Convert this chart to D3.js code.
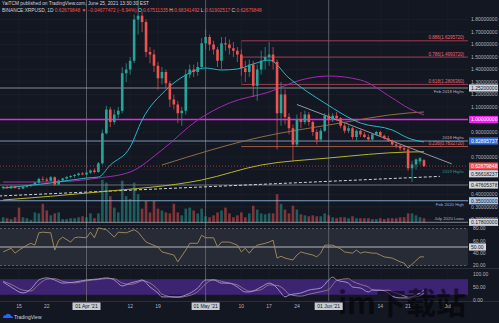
<!DOCTYPE html>
<html><head><meta charset="utf-8">
<script src="https://cdn.jsdelivr.net/npm/d3@7"></script>
<style>
html,body{margin:0;padding:0;background:#131722;overflow:hidden}
svg{display:block;font-family:"Liberation Sans",Arial,sans-serif}
</style></head><body>
<svg id="c" width="499" height="323"></svg>
<script>
// ---------------- DATA ----------------
const startDate = "2021-03-11";
const opens  = [.452,.462,.450,.466,.452,.448,.462,.470,.478,.495,.525,.520,.510,.538,.480,.512,.528,.540,.548,.556,.568,.560,.575,.592,.580,
 .650,.890,1.080,.980,1.040,1.070,1.370,1.400,1.470,1.800,1.830,1.780,1.540,1.520,1.430,1.330,1.380,1.290,1.160,
 1.120,1.050,1.070,1.360,1.400,1.380,1.420,1.610,1.660,1.600,1.560,1.470,1.610,1.600,1.570,1.550,1.520,1.410,1.380,
 1.440,1.270,1.400,1.470,1.500,1.520,1.460,1.050,1.200,1.020,.930,.800,1.000,.980,1.040,.980,.900,.840,.910,1.030,1.000,1.030,
 1.010,.950,.910,.930,.860,.910,.880,.860,.840,.880,.900,.870,.850,.830,.800,.790,.770,.760,.610,.640,.665,.675];
const highs  = [.468,.470,.472,.470,.462,.470,.478,.485,.500,.535,.545,.535,.548,.545,.520,.535,.548,.555,.565,.575,.580,.590,.600,.610,.660,
 .920,1.110,1.100,1.080,1.100,1.420,1.450,1.500,1.840,1.960,1.860,1.800,1.580,1.560,1.460,1.420,1.400,1.310,1.200,
 1.150,1.100,1.400,1.440,1.440,1.460,1.650,1.720,1.680,1.630,1.580,1.660,1.660,1.640,1.620,1.580,1.560,1.470,1.480,
 1.470,1.440,1.550,1.580,1.620,1.580,1.480,1.300,1.240,1.050,.960,1.040,1.060,1.070,1.060,.990,.920,.930,1.050,1.050,1.050,1.060,
 1.020,.970,.950,.940,.920,.920,.900,.880,.890,.910,.910,.880,.870,.840,.820,.800,.780,.780,.670,.690,.700,.683];
const lows   = [.440,.445,.443,.447,.440,.442,.455,.460,.468,.485,.505,.500,.505,.470,.475,.505,.520,.530,.535,.545,.555,.555,.565,.570,.575,
 .640,.880,.940,.960,1.010,1.050,1.300,1.360,1.450,1.680,1.700,1.500,1.450,1.380,1.240,1.280,1.250,1.100,1.080,
 .970,.950,1.040,1.330,1.340,1.350,1.400,1.560,1.550,1.520,1.420,1.400,1.550,1.520,1.500,1.460,1.350,1.300,1.340,
 1.180,1.150,1.360,1.400,1.430,1.400,.760,.950,.960,.880,.660,.780,.930,.960,.950,.870,.800,.820,.900,.960,.980,.990,
 .930,.890,.890,.840,.830,.860,.850,.830,.830,.870,.860,.840,.820,.790,.770,.750,.740,.590,.500,.600,.640,.619];
const closes = [.462,.450,.466,.452,.448,.462,.470,.478,.495,.525,.520,.510,.538,.480,.512,.528,.540,.548,.556,.568,.560,.575,.592,.580,.650,
 .890,1.080,.980,1.040,1.070,1.370,1.400,1.470,1.800,1.830,1.780,1.540,1.520,1.430,1.330,1.380,1.290,1.160,1.120,
 1.050,1.070,1.360,1.400,1.380,1.420,1.610,1.660,1.600,1.560,1.470,1.610,1.600,1.570,1.550,1.520,1.410,1.380,1.440,
 1.270,1.400,1.470,1.500,1.520,1.460,1.050,1.200,1.020,.930,.800,1.000,.980,1.040,.980,.900,.840,.910,1.030,1.000,1.030,1.010,
 .950,.910,.930,.860,.910,.880,.860,.840,.880,.900,.870,.850,.830,.800,.790,.770,.760,.610,.640,.680,.690,.627];
const volumes = [120,100,80,120,320,120,100,60,220,200,400,260,160,200,220,80,80,100,100,120,140,120,200,100,200,
 900,840,560,320,220,880,560,500,840,600,300,460,220,460,300,260,220,200,400,
 220,160,300,320,260,200,300,140,120,160,220,260,320,200,120,160,220,120,200,
 360,280,200,180,200,200,600,400,280,200,360,280,180,160,140,160,140,140,200,160,120,100,120,120,100,140,100,100,100,100,80,80,100,80,100,100,100,120,120,200,200,160,120,100];

// price axis ticks
const priceTicks = [1.8,1.7,1.6,1.5,1.4,1.3,1.2,1.1,0.9,0.7,0.4,0.3,0.2];
// moving averages: day index from start, price
const ma20Idx = [0,12,21,24,27,32,35,41,46,51,55,59,63,67,72,81,90,98,102,106];
const ma20Val = [.452,.492,.532,.54,.636,.78,.996,1.236,1.356,1.412,1.396,1.404,1.444,1.476,1.332,1.132,.972,.916,.852,.82];
const ma50Idx = [0,12,24,32,40,49,57,67,75,82,90,98,102,106];
const ma50Val = [.50,.50,.532,.58,.756,.996,1.132,1.22,1.316,1.348,1.316,1.172,1.092,1.036];
const ma100Idx = [40,65,82,102,106];
const ma100Val = [.636,.86,.956,1.052,1.06];
const ma200Idx = [0,24,50,65,82,102,106];
const ma200Val = [.356,.42,.516,.636,.692,.74,.742];
// RSI (read)
const rsiIdx = [0,2,3,4,6,7,8,9,10,12,13,14,15,17,18,19,21,22,23,24,26,28,29,31,33,34,35,36,39,40,43,44,46,47,49,50,51,53,54,55,57,59,60,61,62,63,64,66,67,68,69,70,71,73,74,75,76,78,79,80,81,83,84,85,86,88,89,90,91,93,94,95,96,98,100,101,102,103,105,106];
const rsiVal = [42,48,40,45,53,56,53,73,74,73,45,61,66,58,65,66,65,74,65,81,78,66,74,73,78,74,66,58,50,42,37,26,45,56,56,69,65,65,50,58,58,53,42,48,40,48,53,56,58,61,32,35,32,29,37,42,40,37,34,40,53,53,50,47,42,40,45,40,42,40,40,37,34,32,26,24,16,22,34,34];
// Stoch RSI (read)
const kIdx = [0,2,5,7,9,11,13,15,18,21,24,26,28,30,32,34,35,37,39,40,44,46,49,51,53,55,57,59,61,62,65,67,69,70,71,72,75,77,80,82,83,84,87,88,90,92,93,95,97,98,100,102,104,106];
const kVal = [69,50,27,42,77,85,77,65,69,77,81,85,77,54,65,73,77,50,27,12,12,19,46,77,77,65,65,50,31,31,50,65,46,27,12,19,27,38,46,77,88,77,65,50,46,31,38,38,27,15,8,8,19,38];
const dIdx = [0,2,5,7,9,11,13,15,18,21,24,26,28,30,32,34,35,37,39,40,44,46,49,51,53,55,57,59,61,62,65,67,69,71,72,75,77,80,82,83,84,87,88,90,92,93,95,97,98,100,102,104,106];
const dVal = [72,60,38,35,60,80,82,72,66,74,79,82,82,65,60,68,74,65,40,22,10,14,32,62,78,72,64,58,40,34,40,58,56,38,22,15,22,32,40,58,75,82,72,60,50,40,36,38,32,22,12,12,26];
// levels
const fibLow = 0.476, fibHigh = 1.778;
const fibLevels = [0.886, 0.786, 0.618, 0.236];
const levelPrices = [1.252, 1.0, 0.828, 0.47605378, 0.35, 0.178];
const levelNames  = ["Feb 2018 Highs", "", "2018 Highs", "", "Feb 2020 High", "July 2020 Lows"];
const levelLabels = ["1.25200000","1.00000000","0.82895737","0.47605378","0.35000000","0.17800000"];
const timeTicks = ["2021-03-15","2021-03-22","2021-04-12","2021-04-19","2021-05-10","2021-05-17","2021-05-24","2021-06-14","2021-06-21","2021-07-01"];
const timeTickLabels = ["15","22","12","19","10","17","24","14","21","Jul"];
const vLines = ["2021-04-01","2021-05-01","2021-06-01"];
const vLineLabels = ["01 Apr '21","01 May '21","01 Jun '21"];
const rsiTicks = [80,60,40,20];
const stochTicks = [100,50,0];

// ---------------- DRAW ----------------
const svg = d3.select('#c');
const plotR = 468;
const parse = d3.utcParse('%Y-%m-%d');
const t0 = parse(startDate);
const x = d3.scaleUtc().domain([parse('2021-03-15'), parse('2021-07-01')]).range([19, 447.8]);
const xi = i => x(d3.utcDay.offset(t0, i));
const y = d3.scaleLinear().domain([0.3, 1.8]).range([207, 19.5]);
const yVol = d3.scaleLinear().domain([0, 1000]).range([223, 175]);
const yRsi = d3.scaleLinear().domain([20, 80]).range([265.5, 228.5]);
const ySt = d3.scaleLinear().domain([0, 100]).range([300, 274]);

const GREEN = '#26a69a', RED = '#ef5350';
const FS = 5;

svg.append('rect').attr('width', 499).attr('height', 323).attr('fill', '#131722');
const defs = svg.append('defs');
defs.append('clipPath').attr('id', 'pp').append('rect').attr('x', 0).attr('y', 0).attr('width', plotR).attr('height', 225);
defs.append('clipPath').attr('id', 'rp').append('rect').attr('x', 0).attr('y', 226).attr('width', plotR).attr('height', 42);
defs.append('clipPath').attr('id', 'sp').append('rect').attr('x', 0).attr('y', 269).attr('width', plotR).attr('height', 32);

// grid
const grid = svg.append('g');
priceTicks.concat([1.0, 0.8, 0.6, 0.5]).forEach(p => {
  grid.append('line').attr('x1', 0).attr('x2', plotR).attr('y1', y(p)).attr('y2', y(p)).attr('stroke', '#1c202b').attr('stroke-width', 0.7);
});
timeTicks.forEach(t => {
  grid.append('line').attr('x1', x(parse(t))).attr('x2', x(parse(t))).attr('y1', 0).attr('y2', 301).attr('stroke', '#1c202b').attr('stroke-width', 0.7);
});

// RSI / Stoch pane backgrounds
svg.append('rect').attr('x', 0).attr('width', plotR).attr('y', yRsi(80)).attr('height', yRsi(20) - yRsi(80)).attr('fill', '#272b36');
svg.append('rect').attr('x', 0).attr('width', plotR).attr('y', ySt(80)).attr('height', ySt(20) - ySt(80)).attr('fill', '#3d2472');

// separators
[225.5, 268.5].forEach(v => svg.append('line').attr('x1', 0).attr('x2', 499).attr('y1', v).attr('y2', v).attr('stroke', '#2a2e39').attr('stroke-width', 1));
svg.append('line').attr('x1', 0).attr('x2', 499).attr('y1', 301.5).attr('y2', 301.5).attr('stroke', '#2a2e39');

// vertical user lines
vLines.forEach(t => {
  svg.append('line').attr('x1', x(parse(t))).attr('x2', x(parse(t))).attr('y1', 0).attr('y2', 301).attr('stroke', '#6a6d78').attr('stroke-width', 0.8);
});

const pp = svg.append('g').attr('clip-path', 'url(#pp)');

// volume
pp.append('g').selectAll('rect').data(volumes).join('rect')
  .attr('x', (d, i) => xi(i) - 1.3).attr('width', 2.6)
  .attr('y', d => yVol(d)).attr('height', d => yVol(0) - yVol(d))
  .attr('fill', (d, i) => closes[i] >= opens[i] ? GREEN : RED).attr('opacity', 0.5);

// horizontal levels
const levelColors = ['#9598a1', '#f020f0', '#8aa0c8', '#787b86', '#8fb3d9', '#9598a1'];
levelPrices.forEach((p, k) => {
  pp.append('line').attr('x1', 0).attr('x2', plotR).attr('y1', y(p)).attr('y2', y(p))
    .attr('stroke', levelColors[k]).attr('stroke-width', k === 1 ? 1.6 : 0.9);
});
// fib lines
const fibX0 = xi(60);
fibLevels.forEach(f => {
  const p = fibLow + f * (fibHigh - fibLow);
  pp.append('line').attr('x1', fibX0).attr('x2', plotR).attr('y1', y(p)).attr('y2', y(p))
    .attr('stroke', f === 0.236 ? '#c56b4c' : '#c2455a').attr('stroke-width', 0.8);
  pp.append('text').attr('x', 464).attr('y', y(p) - 1.5).attr('text-anchor', 'end').attr('font-size', 4.5)
    .attr('fill', '#f06574').text(f + '(' + p.toFixed(7) + ')');
});
pp.append('line').attr('x1', fibX0).attr('x2', fibX0).attr('y1', y(fibLow + 0.886 * (fibHigh - fibLow))).attr('y2', y(fibLow + 0.618 * (fibHigh - fibLow))).attr('stroke', '#5a3a45').attr('stroke-width', 0.6);

// rising dashed trend line
pp.append('line').attr('x1', xi(-1)).attr('x2', xi(110)).attr('y1', y(0.388)).attr('y2', y(0.545))
  .attr('stroke', '#d1d4dc').attr('stroke-width', 1).attr('stroke-dasharray', '3,2');
// descending trend line
pp.append('line').attr('x1', xi(74)).attr('x2', xi(113)).attr('y1', y(1.12)).attr('y2', y(0.645))
  .attr('stroke', '#b2b5be').attr('stroke-width', 0.8);

// moving averages
const lineGen = d3.line().x(d => xi(d[0])).y(d => y(d[1])).curve(d3.curveMonotoneX);
const maDefs = [[ma200Idx, ma200Val, '#b5b52a'], [ma100Idx, ma100Val, '#8d6e3f'], [ma50Idx, ma50Val, '#a12ab5'], [ma20Idx, ma20Val, '#26b7c7']];
maDefs.forEach(([ix, vv, c]) => {
  pp.append('path').attr('d', lineGen(ix.map((v, i) => [v, vv[i]]))).attr('fill', 'none').attr('stroke', c).attr('stroke-width', 1);
});

// candles
const cg = pp.append('g');
opens.forEach((o, i) => {
  const c = closes[i], col = c >= o ? GREEN : RED, cx = xi(i);
  cg.append('line').attr('x1', cx).attr('x2', cx).attr('y1', y(highs[i])).attr('y2', y(lows[i])).attr('stroke', col).attr('stroke-width', 0.7);
  const top = y(Math.max(o, c)), bot = y(Math.min(o, c));
  cg.append('rect').attr('x', cx - 1.3).attr('width', 2.6).attr('y', top).attr('height', Math.max(0.8, bot - top)).attr('fill', col);
});
// current price line
pp.append('line').attr('x1', 0).attr('x2', plotR).attr('y1', y(closes[closes.length - 1])).attr('y2', y(closes[closes.length - 1]))
  .attr('stroke', RED).attr('stroke-width', 0.6).attr('stroke-dasharray', '1,2');

// level names
levelNames.forEach((n, k) => {
  if (!n) return;
  const below = (k === 0 || k === 4);
  pp.append('text').attr('x', 464).attr('y', y(levelPrices[k]) + (below ? 5 : -2)).attr('text-anchor', 'end')
    .attr('font-size', 4.3).attr('fill', k === 4 ? '#90b4e0' : '#b2b5be').text(n);
});

// RSI pane
const rp = svg.append('g').attr('clip-path', 'url(#rp)');
[80, 20].forEach(v => rp.append('line').attr('x1', 0).attr('x2', plotR).attr('y1', yRsi(v)).attr('y2', yRsi(v)).attr('stroke', '#787b86').attr('stroke-width', 0.7).attr('stroke-dasharray', '2,2'));
rp.append('line').attr('x1', 0).attr('x2', plotR).attr('y1', yRsi(50)).attr('y2', yRsi(50)).attr('stroke', '#c8cad0').attr('stroke-width', 0.9);
const rsiLine = d3.line().x(d => xi(d[0])).y(d => yRsi(d[1])).curve(d3.curveLinear);
rp.append('path').attr('d', rsiLine(rsiIdx.map((v, i) => [v, rsiVal[i]]))).attr('fill', 'none').attr('stroke', '#a88d5c').attr('stroke-width', 0.9);

// Stoch pane
const sp = svg.append('g').attr('clip-path', 'url(#sp)');
const stLine = d3.line().x(d => xi(d[0])).y(d => ySt(d[1])).curve(d3.curveMonotoneX);
sp.append('path').attr('d', stLine(dIdx.map((v, i) => [v, dVal[i]]))).attr('fill', 'none').attr('stroke', '#9c7a8a').attr('stroke-width', 0.9);
sp.append('path').attr('d', stLine(kIdx.map((v, i) => [v, kVal[i]]))).attr('fill', 'none').attr('stroke', '#a99ad8').attr('stroke-width', 0.9);

// ------------ right axis ------------
const ax = svg.append('g').attr('font-size', FS).attr('fill', '#b2b5be');
priceTicks.forEach(p => ax.append('text').attr('x', 471).attr('y', y(p) + 1.8).text(p.toFixed(8)));
function box(yy, txt, bg, fg) {
  ax.append('rect').attr('x', 469).attr('y', yy - 3.6).attr('width', 29).attr('height', 7.2).attr('fill', bg);
  ax.append('text').attr('x', 471).attr('y', yy + 1.8).attr('fill', fg).text(txt);
}
const boxStyles = [['#d1d4dc', '#131722'], ['#f020f0', '#ffffff'], ['#2f6fe0', '#ffffff'], ['#d1d4dc', '#131722'], ['#a9c8f0', '#131722'], ['#d1d4dc', '#131722']];
levelPrices.forEach((p, k) => box(y(p), levelLabels[k], boxStyles[k][0], boxStyles[k][1]));
box(y(0.566), '0.56618237', '#d1d4dc', '#131722');
box(y(closes[closes.length - 1]), '0.62679848', RED, '#ffffff');
pp.append('text').attr('x', 464).attr('y', y(0.566) - 1).attr('text-anchor', 'end').attr('font-size', 4.3).attr('fill', '#2a9d8f').text('2019 Highs');

rsiTicks.forEach(v => ax.append('text').attr('x', 473).attr('y', yRsi(v) + 1.8).text(v.toFixed(2)));
ax.append('rect').attr('x', 469).attr('y', yRsi(50) - 3.6).attr('width', 17).attr('height', 7.2).attr('fill', '#d1d4dc');
ax.append('text').attr('x', 471).attr('y', yRsi(50) + 1.8).attr('fill', '#131722').text('50.00');
stochTicks.forEach(v => ax.append('text').attr('x', 473).attr('y', ySt(v) + 1.8).text(v.toFixed(2)));

// watermark (drawn before time labels so labels stay readable)
svg.append('text').attr('x', 338).attr('y', 314).attr('font-size', 30).attr('font-weight', 'bold')
  .attr('font-family', '"Noto Sans CJK SC", sans-serif').attr('fill', '#000').attr('opacity', 0.55).text('im下载站');

// ------------ time axis ------------
const tx = svg.append('g').attr('font-size', FS).attr('fill', '#b2b5be').attr('text-anchor', 'middle');
timeTicks.forEach((t, k) => tx.append('text').attr('x', x(parse(t))).attr('y', 307.5).text(timeTickLabels[k]));
vLines.forEach((t, k) => {
  const cx = x(parse(t));
  tx.append('rect').attr('x', cx - 14).attr('y', 302.5).attr('width', 28).attr('height', 7.5).attr('fill', '#c8cad0');
  tx.append('text').attr('x', cx).attr('y', 307.8).attr('fill', '#131722').text(vLineLabels[k]);
});

// ------------ header ------------
const hd = svg.append('g').attr('font-size', 4.8);
hd.append('text').attr('x', 2).attr('y', 5).attr('fill', '#d1d4dc').text('YaiTCM published on TradingView.com, June 25, 2021 13:30:30 EST');
const h2 = hd.append('text').attr('x', 2).attr('y', 11.5).attr('fill', '#d1d4dc');
h2.append('tspan').text('BINANCE:XRPUSD, 1D ');
h2.append('tspan').attr('fill', RED).text('0.62679848 ▼ −0.04677472 (−6.94%) ');
h2.append('tspan').text('O:'); h2.append('tspan').attr('fill', RED).text('0.67511335 ');
h2.append('tspan').text('H:'); h2.append('tspan').attr('fill', RED).text('0.68341492 ');
h2.append('tspan').text('L:'); h2.append('tspan').attr('fill', RED).text('0.61902517 ');
h2.append('tspan').text('C:'); h2.append('tspan').attr('fill', RED).text('0.62679848');

// ------------ footer logo ------------
const lg = svg.append('g');
lg.append('path').attr('d', 'M3 318 q0-3 3-3 q1-2 3-1 q2 0 2 2 q2 0 2 2 z').attr('fill', '#2962ff');
lg.append('text').attr('x', 14).attr('y', 318.5).attr('font-size', 5).attr('fill', '#d1d4dc').text('TradingView');
</script></body></html>
